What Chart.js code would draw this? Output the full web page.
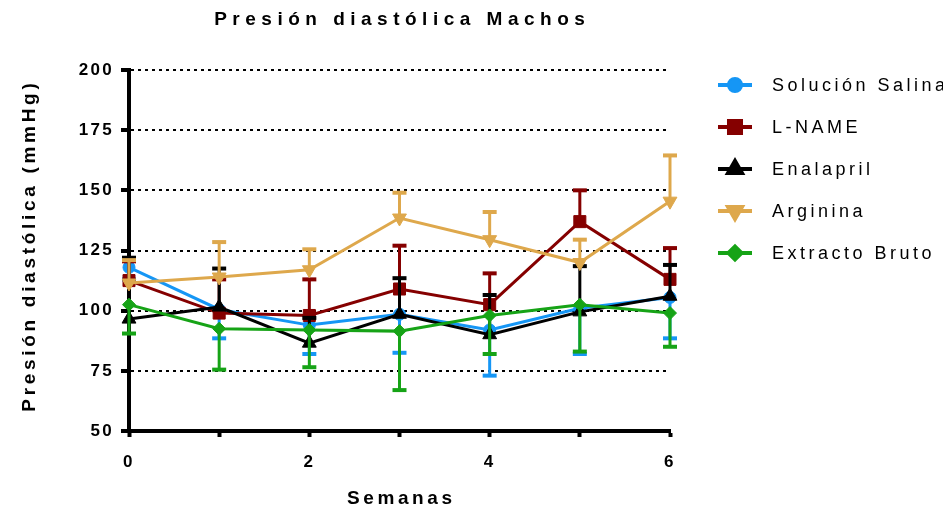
<!DOCTYPE html>
<html>
<head>
<meta charset="utf-8">
<title>Presión diastólica Machos</title>
<script src="https://cdn.jsdelivr.net/npm/chart.js@4.4.1/dist/chart.umd.min.js"></script>
<style>
  html, body { margin: 0; padding: 0; background: #fff; }
</style>
</head>
<body>
<canvas id="chartCanvas" width="943" height="510"></canvas>
<script>
// Weeks of treatment and axis tick values
const semanas = [0, 1, 2, 3, 4, 5, 6];
const xTickLabels = ['0', '', '2', '', '4', '', '6'];
const yTicks = [50, 75, 100, 125, 150, 175, 200];

// Mean diastolic pressure per group (mmHg)
const solucionSalina = [118, 100.5, 94, 98.5, 92, 101, 105.5];
const lName = [112.5, 99, 98, 109, 102.5, 137, 113];
const enalapril = [96.5, 101.5, 86.5, 98.5, 90, 99.5, 106];
const arginina = [111.5, 114, 117, 138.5, 129.5, 120, 145.5];
const extractoBruto = [102.5, 92.5, 92, 91.5, 98, 102.5, 99];

// Error bar lengths (SEM); salina and extracto are drawn below the mean, the rest above
const errSalina = [5, 12, 12, 16, 19, 19, 17];
const errLName = [8, 14, 15, 18, 13, 13, 13];
const errEnalapril = [25.5, 16, 10.5, 15, 16.5, 19, 13];
const errArginina = [9.5, 14.5, 8.5, 10.5, 11.5, 9.5, 19];
const errExtracto = [12, 17, 15.5, 24.5, 16, 19.5, 14];

const FONT = '"Liberation Sans", Arial, sans-serif';

function toPoints(values) {
    return values.map((v, i) => ({ x: semanas[i], y: v }));
}

function serie(label, values, errors, dir, color, pointStyle, radius, rotation, order) {
    return {
        label: label,
        data: toPoints(values),
        errors: errors,
        errDir: dir,
        borderColor: color,
        backgroundColor: color,
        borderWidth: 3,
        pointStyle: pointStyle,
        pointRadius: radius,
        pointHoverRadius: radius,
        pointRotation: rotation,
        pointBorderWidth: 1,
        tension: 0,
        clip: false,
        order: order
    };
}

const datasets = [
    serie('Solución Salina', solucionSalina, errSalina, -1, '#1596f5', 'circle', 6, 0, 5),
    serie('L-NAME', lName, errLName, 1, '#850000', 'rect', 8.5, 0, 4),
    serie('Enalapril', enalapril, errEnalapril, 1, '#000000', 'triangle', 8, 0, 3),
    serie('Arginina', arginina, errArginina, 1, '#dea84c', 'triangle', 8, 180, 2),
    serie('Extracto Bruto', extractoBruto, errExtracto, -1, '#16a316', 'rectRot', 6.5, 0, 1)
];

// Error bars: drawn just before each dataset so its line and markers sit on top
const errorBars = {
    id: 'errorBars',
    beforeDatasetDraw(chart, args) {
        const ds = chart.data.datasets[args.index];
        const yScale = chart.scales.y;
        const ctx = chart.ctx;
        ctx.save();
        ctx.strokeStyle = ds.borderColor;
        args.meta.data.forEach((pt, i) => {
            const yEnd = yScale.getPixelForValue(ds.data[i].y + ds.errDir * ds.errors[i]);
            ctx.lineWidth = 3;
            ctx.beginPath();
            ctx.moveTo(pt.x, pt.y);
            ctx.lineTo(pt.x, yEnd);
            ctx.stroke();
            ctx.lineWidth = 4;
            ctx.beginPath();
            ctx.moveTo(pt.x - 7, yEnd);
            ctx.lineTo(pt.x + 7, yEnd);
            ctx.stroke();
        });
        ctx.restore();
    }
};

// Spaced-out lettering for the tick labels
const tickSpacing = {
    id: 'tickSpacing',
    beforeDraw(chart) {
        chart.ctx.letterSpacing = '2.3px';
    }
};

function spacedText(ctx, text, x, y, spacing) {
    ctx.letterSpacing = spacing + 'px';
    ctx.fillText(text, x + spacing / 2, y);
}

// Title, axis titles and legend
const labels = {
    id: 'labels',
    afterDraw(chart) {
        const ctx = chart.ctx;
        const area = chart.chartArea;
        const cx = (area.left + area.right) / 2;
        const cy = (area.top + area.bottom) / 2;
        ctx.save();
        ctx.fillStyle = '#000';
        ctx.textAlign = 'center';
        ctx.textBaseline = 'middle';

        ctx.font = 'bold 19px ' + FONT;
        spacedText(ctx, 'Presión diastólica Machos', cx, 20, 5.5);

        ctx.font = 'bold 19px ' + FONT;
        spacedText(ctx, 'Semanas', cx, 499, 3.6);

        ctx.save();
        ctx.translate(30, cy - 3);
        ctx.rotate(-Math.PI / 2);
        spacedText(ctx, 'Presión diastólica (mmHg)', 0, 0, 3.7);
        ctx.restore();

        // legend
        ctx.textAlign = 'left';
        ctx.font = '18px ' + FONT;
        chart.data.datasets.forEach((ds, i) => {
            const y = 85 + i * 42;
            ctx.strokeStyle = ds.borderColor;
            ctx.lineWidth = 4;
            ctx.beginPath();
            ctx.moveTo(718, y);
            ctx.lineTo(752, y);
            ctx.stroke();
            Chart.helpers.drawPoint(ctx, {
                pointStyle: ds.pointStyle,
                rotation: ds.pointRotation,
                radius: ds.pointRadius,
                borderWidth: 1
            }, 735, y);
            ctx.fillStyle = ds.borderColor;
            ctx.fill();
            ctx.fillStyle = '#000';
            ctx.letterSpacing = '3.5px';
            ctx.fillText(ds.label, 772, y + 1);
        });
        ctx.restore();
    }
};

const ctx = document.getElementById('chartCanvas').getContext('2d');
const chart = new Chart(ctx, {
    type: 'line',
    data: { datasets: datasets },
    plugins: [errorBars, tickSpacing, labels],
    options: {
        responsive: false,
        animation: false,
        events: [],
        layout: { padding: { top: 70, right: 273, left: 0, bottom: 0 } },
        plugins: {
            legend: { display: false },
            title: { display: false },
            tooltip: { enabled: false }
        },
        scales: {
            x: {
                type: 'linear',
                min: 0,
                max: 6,
                afterFit: s => { s.height = 79; },
                afterBuildTicks: s => { s.ticks = semanas.map(v => ({ value: v })); },
                ticks: {
                    color: '#000',
                    font: { family: FONT, size: 17, weight: 'bold' },
                    padding: 15,
                    maxRotation: 0,
                    autoSkip: false,
                    callback: (v, i) => xTickLabels[i]
                },
                grid: {
                    drawOnChartArea: false,
                    drawTicks: true,
                    tickLength: 6,
                    tickWidth: 4,
                    tickColor: '#000'
                },
                border: { display: true, color: '#000', width: 4 }
            },
            y: {
                min: 50,
                max: 200,
                afterFit: s => { s.width = 129; },
                afterBuildTicks: s => { s.ticks = yTicks.map(v => ({ value: v })); },
                ticks: {
                    color: '#000',
                    font: { family: FONT, size: 17, weight: 'bold' },
                    padding: 7
                },
                grid: {
                    color: c => (c.tick && c.tick.value === 50) ? 'rgba(0,0,0,0)' : '#000',
                    lineWidth: 2,
                    drawTicks: true,
                    tickLength: 8,
                    tickWidth: 4,
                    tickColor: '#000',
                    tickBorderDash: []
                },
                border: { display: true, color: '#000', width: 4, dash: [3, 4] }
            }
        }
    }
});
</script>
</body>
</html>
